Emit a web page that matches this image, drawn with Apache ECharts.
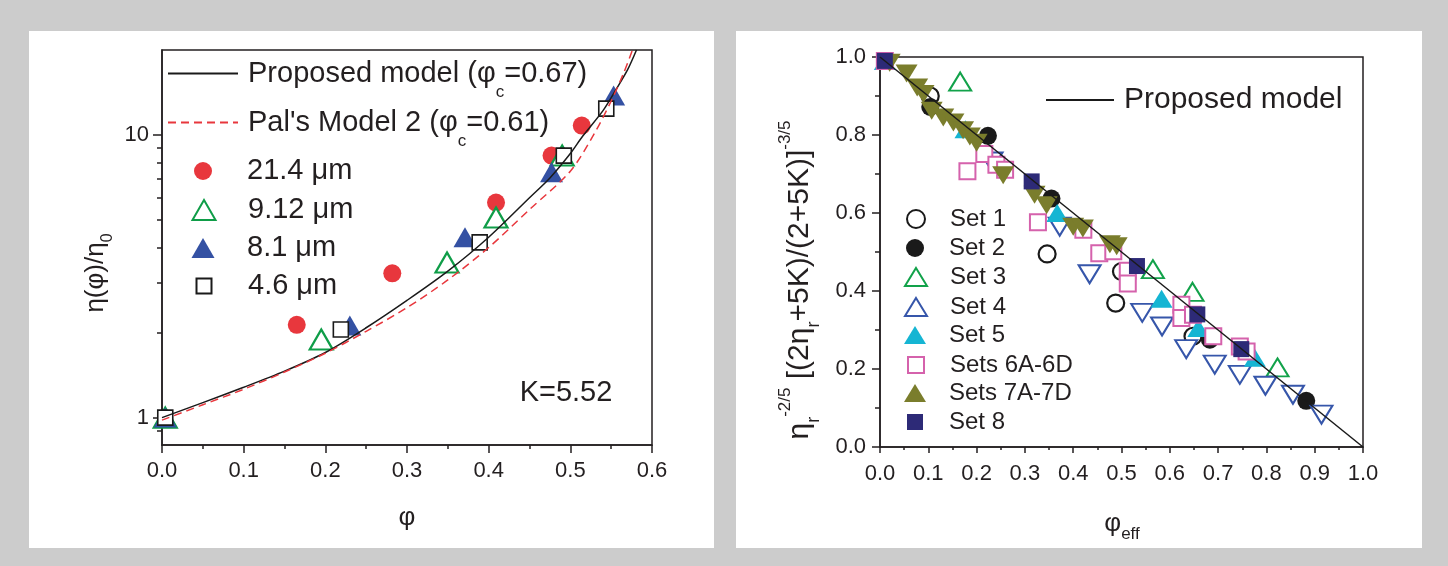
<!DOCTYPE html>
<html>
<head>
<meta charset="utf-8">
<script src="https://cdn.jsdelivr.net/npm/echarts@6/dist/echarts.min.js"></script>
<style>
html, body { margin: 0; padding: 0; background: #cccccc; }
#main { width: 1448px; height: 566px; }
</style>
</head>
<body>
<div id="main"></div>
<script>
// ---- left panel: eta(phi)/eta0 vs phi ----
const d214 = [[0.165, 2.13], [0.282, 3.24], [0.409, 5.77], [0.477, 8.46], [0.514, 10.8]];
const d912 = [[0.004, 1.0], [0.195, 1.89], [0.349, 3.54], [0.409, 5.11], [0.490, 8.46]];
const d81 = [[0.004, 1.0], [0.230, 2.12], [0.371, 4.35], [0.477, 7.39], [0.553, 13.8]];
const d46 = [[0.004, 1.0], [0.219, 2.05], [0.389, 4.17], [0.492, 8.46], [0.544, 12.4]];
const modelLeft = [[0, 1.0], [0.05, 1.13], [0.1, 1.28], [0.15, 1.46], [0.2, 1.70], [0.25, 2.08],
  [0.3, 2.6], [0.35, 3.3], [0.4, 4.35], [0.45, 6.0], [0.475, 7.05], [0.5, 8.6], [0.515, 9.9],
  [0.54, 12.2], [0.556, 14.5], [0.57, 17], [0.581, 20]];
const palLeft = [[0, 0.98], [0.05, 1.11], [0.1, 1.26], [0.15, 1.45], [0.2, 1.69], [0.25, 2.02],
  [0.3, 2.45], [0.35, 3.07], [0.4, 4.0], [0.45, 5.45], [0.5, 7.45], [0.53, 10.2], [0.55, 13.2],
  [0.565, 16.5], [0.576, 20]];
const leftXTicks = [0, 0.6, 0.1];
const leftYMajor = [1, 10];
const leftYMinor = [0.9, 2, 3, 4, 5, 6, 7, 8, 9];

// ---- right panel: reduced viscosity vs phi_eff ----
const set1 = [[0.104, 0.900], [0.346, 0.495], [0.488, 0.369], [0.500, 0.450], [0.648, 0.284]];
const set2 = [[0.104, 0.872], [0.2235, 0.798], [0.355, 0.637], [0.683, 0.275], [0.8825, 0.1185]];
const set3 = [[0.166, 0.937], [0.565, 0.456], [0.647, 0.398], [0.823, 0.204]];
const set4 = [[0.231, 0.732], [0.372, 0.565], [0.434, 0.443], [0.543, 0.344], [0.584, 0.309],
  [0.634, 0.251], [0.693, 0.211], [0.745, 0.185], [0.798, 0.157], [0.855, 0.134], [0.914, 0.083]];
const set5 = [[0.01, 0.99], [0.177, 0.815], [0.367, 0.600], [0.583, 0.380], [0.659, 0.305], [0.776, 0.229]];
const set6 = [[0.01, 0.99], [0.181, 0.707], [0.216, 0.751], [0.241, 0.724], [0.259, 0.711],
  [0.327, 0.576], [0.421, 0.557], [0.454, 0.497], [0.483, 0.502], [0.513, 0.452], [0.513, 0.419],
  [0.624, 0.365], [0.624, 0.331], [0.648, 0.339], [0.690, 0.284], [0.745, 0.258], [0.759, 0.245]];
const set7 = [[0.02, 0.985], [0.055, 0.958], [0.077, 0.922], [0.09, 0.905], [0.107, 0.862],
  [0.131, 0.845], [0.152, 0.832], [0.172, 0.812], [0.186, 0.796], [0.2, 0.78], [0.255, 0.697],
  [0.32, 0.647], [0.345, 0.62], [0.40, 0.565], [0.42, 0.56], [0.476, 0.52], [0.49, 0.515]];
const set8 = [[0.01, 0.99], [0.314, 0.681], [0.532, 0.464], [0.657, 0.340], [0.748, 0.251]];
const modelRight = [[0, 1], [1, 0]];

const INK = '#231f20';
const FONT = 'Liberation Sans, Arial, sans-serif';

var myChart = echarts.init(document.getElementById('main'));

// one legend per row so every row sits where the reference has it
function rowLegend(name, label, cx, cy, w, h, textX, fs, isLine) {
  const lh = fs + 2;
  const lg = {
    data: [name], left: cx - w / 2, top: cy + 2 - Math.max(h, lh) / 2, padding: 0,
    itemWidth: w, itemHeight: h, selectedMode: false,
    formatter: () => '{t|' + label + '}',
    textStyle: { rich: { t: { fontSize: fs, lineHeight: lh, color: INK, fontFamily: FONT,
      padding: [0, 0, 0, textX - (cx + w / 2) - 5] } } }
  };
  if (isLine) lg.itemStyle = { opacity: 0 };
  return lg;
}
// legend row for a line with phi_c subscript
function lineLegend(name, pre, post, x0, w, cy, textX) {
  const H = 55;
  return {
    data: [name], left: x0, top: cy - 13, padding: 0, itemWidth: w, itemHeight: 14,
    selectedMode: false, itemStyle: { opacity: 0 },
    formatter: () => '{a0|' + pre + '}{s|c}{a|' + post + '}',
    textStyle: { rich: {
      a0: { fontSize: 29, lineHeight: 30, color: INK, fontFamily: FONT, padding: [0, 0, 0, textX - (x0 + w) - 5] },
      a: { fontSize: 29, lineHeight: 30, color: INK, fontFamily: FONT },
      s: { fontSize: 17, color: INK, fontFamily: FONT, verticalAlign: 'bottom', padding: [H - 17, 0, 0, 0] }
    } }
  };
}

const open = (c, w) => ({ color: '#fff', borderColor: c, borderWidth: w || 2, opacity: 1 });
const solid = c => ({ color: c, opacity: 1 });

myChart.setOption({
  animation: false,
  backgroundColor: 'transparent',
  textStyle: { fontFamily: FONT },
  graphic: [
    { type: 'rect', z: -10, silent: true, shape: { x: 29, y: 31, width: 685, height: 517 }, style: { fill: '#fff' } },
    { type: 'rect', z: -10, silent: true, shape: { x: 736, y: 31, width: 686, height: 517 }, style: { fill: '#fff' } },
    { type: 'text', x: 566, y: 393, silent: true,
      style: { text: 'K=5.52', fontSize: 29, fontFamily: FONT, fill: INK, align: 'center', verticalAlign: 'middle' } },
    { type: 'text', x: 407, y: 518, silent: true,
      style: { text: 'φ', fontSize: 26, fontFamily: FONT, fill: INK, align: 'center', verticalAlign: 'middle' } },
    { type: 'text', x: 96, y: 273, rotation: Math.PI / 2, silent: true,
      style: { text: '{m|η(φ)/η}{s|0}', align: 'center', verticalAlign: 'middle', fill: INK,
        rich: { m: { fontSize: 26, lineHeight: 28, fontFamily: FONT, fill: INK },
          s: { fontSize: 16, fontFamily: FONT, fill: INK, verticalAlign: 'bottom', padding: [24, 0, 0, 0] } } } },
    { type: 'text', x: 1122, y: 524, silent: true,
      style: { text: '{m|φ}{s|eff}', align: 'center', verticalAlign: 'middle', fill: INK,
        rich: { m: { fontSize: 26, lineHeight: 28, fontFamily: FONT, fill: INK },
          s: { fontSize: 17, fontFamily: FONT, fill: INK, verticalAlign: 'bottom', padding: [20, 0, 0, 0] } } } },
    { type: 'text', x: 800, y: 280, rotation: Math.PI / 2, silent: true,
      style: {
        text: '{m|η}{s|r}{p|-2/5}{m| [(2η}{s|r}{m|+5K)/(2+5K)]}{p|-3/5}',
        align: 'center', verticalAlign: 'middle', fill: INK,
        rich: {
          m: { fontSize: 30, lineHeight: 32, fontFamily: FONT, fill: INK },
          s: { fontSize: 18, fontFamily: FONT, fill: INK, verticalAlign: 'bottom', padding: [28, 0, 0, 0] },
          p: { fontSize: 17, fontFamily: FONT, fill: INK, verticalAlign: 'top', padding: [0, 0, 28, 0] }
        }
      } }
  ],
  grid: [
    { left: 162, top: 50, width: 490, height: 395, show: true, borderColor: INK, borderWidth: 1.5, backgroundColor: 'transparent' },
    { left: 880, top: 57, width: 483, height: 390, show: true, borderColor: INK, borderWidth: 1.5, backgroundColor: 'transparent' }
  ],
  xAxis: [
    { type: 'value', gridIndex: 0, min: leftXTicks[0], max: leftXTicks[1], interval: leftXTicks[2],
      axisLine: { lineStyle: { color: INK, width: 1.5 } },
      axisTick: { length: 8, lineStyle: { color: INK, width: 1.5 } },
      minorTick: { show: true, splitNumber: 2, length: 4, lineStyle: { color: INK, width: 1.5 } },
      axisLabel: { fontSize: 22, margin: 15, color: INK, formatter: v => v.toFixed(1) },
      splitLine: { show: false } },
    { type: 'value', gridIndex: 1, min: 0, max: 1, interval: 0.1,
      axisLine: { lineStyle: { color: INK, width: 1.5 } },
      axisTick: { length: 6, lineStyle: { color: INK, width: 1.5 } },
      minorTick: { show: true, splitNumber: 2, length: 3, lineStyle: { color: INK, width: 1.5 } },
      axisLabel: { fontSize: 22, margin: 16, color: INK, formatter: v => v.toFixed(1) },
      splitLine: { show: false } }
  ],
  yAxis: [
    { type: 'log', logBase: 10, gridIndex: 0, position: 'left', min: 0.8, max: 20,
      axisLine: { show: true, lineStyle: { color: INK, width: 1.5 } },
      axisTick: { length: 9, customValues: leftYMajor, lineStyle: { color: INK, width: 1.5 } },
      axisLabel: { fontSize: 22, margin: 13, color: INK, customValues: leftYMajor, formatter: v => String(Math.round(v)) },
      splitLine: { show: false } },
    { type: 'log', logBase: 10, gridIndex: 0, position: 'left', min: 0.8, max: 20,
      axisLine: { show: false },
      axisTick: { length: 5, customValues: leftYMinor, lineStyle: { color: INK, width: 1.5 } },
      axisLabel: { show: false }, splitLine: { show: false } },
    { type: 'value', gridIndex: 1, min: 0, max: 1, interval: 0.2,
      axisLine: { show: true, lineStyle: { color: INK, width: 1.5 } },
      axisTick: { length: 8, lineStyle: { color: INK, width: 1.5 } },
      minorTick: { show: true, splitNumber: 2, length: 5, lineStyle: { color: INK, width: 1.5 } },
      axisLabel: { fontSize: 22, margin: 14, color: INK, formatter: v => v.toFixed(1) },
      splitLine: { show: false } }
  ],
  legend: [
    lineLegend('Proposed model (φc=0.67)', 'Proposed model (φ', '=0.67)', 167, 70, 72, 247),
    lineLegend("Pal's Model 2 (φc=0.61)", "Pal's Model 2 (φ", '=0.61)', 167, 70, 121, 247),
    rowLegend('21.4 μm', '21.4 μm', 203, 170, 18, 18, 247, 29),
    rowLegend('9.12 μm', '9.12 μm', 203, 209, 23, 20, 247, 29),
    rowLegend('8.1 μm', '8.1 μm', 203, 247, 23, 20, 247, 29),
    rowLegend('4.6 μm', '4.6 μm', 203, 285, 15, 15, 247, 29),
    rowLegend('Proposed model', 'Proposed model', 1079, 99, 68, 14, 1123, 30, true),
    rowLegend('Set 1', 'Set 1', 915, 218, 18, 18, 949, 24),
    rowLegend('Set 2', 'Set 2', 915, 247, 18, 18, 949, 24),
    rowLegend('Set 3', 'Set 3', 915, 276, 22, 18, 949, 24),
    rowLegend('Set 4', 'Set 4', 915, 306, 22, 18, 949, 24),
    rowLegend('Set 5', 'Set 5', 915, 334, 22, 18, 949, 24),
    rowLegend('Sets 6A-6D', 'Sets 6A-6D', 915, 364, 16, 16, 949, 24),
    rowLegend('Sets 7A-7D', 'Sets 7A-7D', 915, 392, 22, 18, 949, 24),
    rowLegend('Set 8', 'Set 8', 915, 421, 16, 16, 949, 24)
  ],
  series: [
    { name: 'Proposed model (φc=0.67)', type: 'line', xAxisIndex: 0, yAxisIndex: 0, data: modelLeft,
      symbol: 'none', smooth: 0.3, lineStyle: { color: '#1a1a1a', width: 1.5 }, itemStyle: { color: '#1a1a1a' } },
    { name: "Pal's Model 2 (φc=0.61)", type: 'line', xAxisIndex: 0, yAxisIndex: 0, data: palLeft,
      symbol: 'none', smooth: 0.3, lineStyle: { color: '#e8373d', width: 1.5, type: [8, 5] }, itemStyle: { color: '#e8373d' } },
    { name: '21.4 μm', type: 'scatter', xAxisIndex: 0, yAxisIndex: 0, data: d214,
      symbol: 'circle', symbolSize: 18, itemStyle: solid('#e8373d') },
    { name: '9.12 μm', type: 'scatter', xAxisIndex: 0, yAxisIndex: 0, data: d912,
      symbol: 'triangle', symbolSize: [23, 20], itemStyle: open('#0f9d48', 2.2) },
    { name: '8.1 μm', type: 'scatter', xAxisIndex: 0, yAxisIndex: 0, data: d81,
      symbol: 'triangle', symbolSize: [23, 20], itemStyle: solid('#3451a3') },
    { name: '4.6 μm', type: 'scatter', xAxisIndex: 0, yAxisIndex: 0, data: d46,
      symbol: 'rect', symbolSize: 15, itemStyle: open('#1a1a1a', 1.6) },

    { name: 'Proposed model', type: 'line', xAxisIndex: 1, yAxisIndex: 2, data: modelRight,
      symbol: 'none', lineStyle: { color: '#1a1a1a', width: 1.5 }, itemStyle: { color: '#1a1a1a' }, z: 5 },
    { name: 'Set 1', type: 'scatter', xAxisIndex: 1, yAxisIndex: 2, data: set1,
      symbol: 'circle', symbolSize: 17, itemStyle: open('#1a1a1a', 2.2) },
    { name: 'Set 2', type: 'scatter', xAxisIndex: 1, yAxisIndex: 2, data: set2,
      symbol: 'circle', symbolSize: 18, itemStyle: solid('#1a1a1a') },
    { name: 'Set 3', type: 'scatter', xAxisIndex: 1, yAxisIndex: 2, data: set3,
      symbol: 'triangle', symbolSize: [22, 18], itemStyle: open('#12a24a', 2) },
    { name: 'Set 4', type: 'scatter', xAxisIndex: 1, yAxisIndex: 2, data: set4,
      symbol: 'triangle', symbolRotate: 180, symbolSize: [22, 18], itemStyle: open('#3656aa', 2) },
    { name: 'Set 5', type: 'scatter', xAxisIndex: 1, yAxisIndex: 2, data: set5,
      symbol: 'triangle', symbolSize: [22, 18], itemStyle: solid('#15b5d3') },
    { name: 'Sets 6A-6D', type: 'scatter', xAxisIndex: 1, yAxisIndex: 2, data: set6,
      symbol: 'rect', symbolSize: 16, itemStyle: open('#d562ac', 2) },
    { name: 'Sets 7A-7D', type: 'scatter', xAxisIndex: 1, yAxisIndex: 2, data: set7,
      symbol: 'triangle', symbolRotate: 180, symbolSize: [22, 18], itemStyle: solid('#7a7d2c') },
    { name: 'Set 8', type: 'scatter', xAxisIndex: 1, yAxisIndex: 2, data: set8,
      symbol: 'rect', symbolSize: 16, itemStyle: solid('#2d2a77') }
  ]
});
</script>
</body>
</html>
